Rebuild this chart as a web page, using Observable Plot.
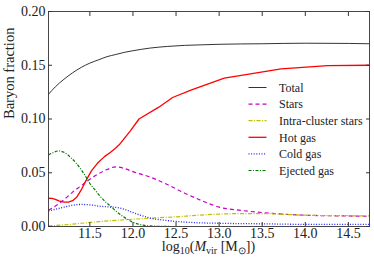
<!DOCTYPE html>
<html><head><meta charset="utf-8">
<script src="https://cdn.jsdelivr.net/npm/d3@7"></script>
<script src="https://cdn.jsdelivr.net/npm/@observablehq/plot@0.6"></script>
<style>body{margin:0;background:#fff} svg{display:block}</style>
</head><body><div id="chart"></div>
<script>
const xTicks = [11.5, 12.0, 12.5, 13.0, 13.5, 14.0, 14.5];
const yTicks = [0.00, 0.05, 0.10, 0.15, 0.20];
const seriesNames = ["Total", "Stars", "Intra-cluster stars", "Hot gas", "Cold gas", "Ejected gas"];

const total = [[11.02,0.123],[11.1,0.130],[11.2,0.137],[11.3,0.143],[11.4,0.148],[11.5,0.152],[11.6,0.155],[11.7,0.158],[11.8,0.160],[11.9,0.162],[12.0,0.1635],[12.2,0.166],[12.4,0.1675],[12.6,0.1685],[12.8,0.169],[13.0,0.1695],[13.5,0.170],[14.0,0.1705],[14.5,0.1703],[14.745,0.170]];
const stars = [[11.02,0.015],[11.1,0.019],[11.2,0.025],[11.3,0.032],[11.4,0.038],[11.5,0.044],[11.6,0.049],[11.7,0.053],[11.8,0.0555],[11.9,0.054],[12.0,0.051],[12.2,0.046],[12.4,0.039],[12.6,0.031],[12.8,0.024],[13.0,0.018],[13.25,0.015],[13.5,0.013],[13.75,0.0115],[14.0,0.0105],[14.5,0.0098],[14.745,0.0095]];
const ics = [[11.02,0.0005],[11.2,0.0015],[11.4,0.003],[11.6,0.0045],[11.8,0.0057],[12.0,0.0068],[12.25,0.008],[12.5,0.009],[12.75,0.0105],[13.0,0.0115],[13.25,0.012],[13.5,0.012],[13.75,0.0113],[14.0,0.0105],[14.5,0.010],[14.745,0.0098]];
const hot = [[11.02,0.0263],[11.06,0.0262],[11.1,0.0252],[11.14,0.0238],[11.2,0.0226],[11.25,0.0227],[11.3,0.0240],[11.35,0.0275],[11.4,0.034],[11.45,0.042],[11.52,0.052],[11.59,0.059],[11.67,0.065],[11.74,0.069],[11.8,0.073],[11.84,0.076],[11.9,0.082],[11.97,0.089],[12.07,0.100],[12.3,0.111],[12.46,0.120],[12.68,0.127],[13.06,0.138],[13.72,0.1466],[14.26,0.1497],[14.745,0.150]];
const cold = [[11.02,0.0145],[11.1,0.016],[11.2,0.018],[11.3,0.0198],[11.4,0.0205],[11.5,0.0202],[11.6,0.019],[11.7,0.0183],[11.8,0.0178],[11.9,0.016],[12.0,0.013],[12.1,0.0102],[12.2,0.0078],[12.35,0.006],[12.5,0.0047],[12.75,0.0035],[13.0,0.003],[13.5,0.0025],[14.0,0.002],[14.745,0.002]];
const ejected = [[11.02,0.0665],[11.08,0.069],[11.14,0.0703],[11.2,0.069],[11.28,0.064],[11.34,0.059],[11.39,0.054],[11.44,0.048],[11.5,0.040],[11.56,0.034],[11.62,0.028],[11.68,0.023],[11.74,0.019],[11.8,0.0145],[11.89,0.009],[12.0,0.004],[12.12,0.0012],[12.25,0.0003],[12.5,0],[14.745,0]];

const styles = [
  {data: total, stroke: "#000000", w: 0.8, dash: "none", curve: "monotone-x"},
  {data: stars, stroke: "#c400c4", w: 1.2, dash: "4,3", curve: "monotone-x"},
  {data: ics, stroke: "#bfbf00", w: 1.2, dash: "4,1.5,1,1.5", curve: "monotone-x"},
  {data: hot, stroke: "#ff0000", w: 1.3, dash: "none", curve: "linear"},
  {data: cold, stroke: "#2020ff", w: 1.3, dash: "1,1.6", curve: "monotone-x"},
  {data: ejected, stroke: "#007a00", w: 1.2, dash: "3,1.5,1,1.5", curve: "monotone-x"}
];

const font = "Liberation Serif";
const plot = Plot.plot({
  width: 374, height: 265,
  marginTop: 11, marginBottom: 39, marginLeft: 48, marginRight: 5,
  style: {fontFamily: font, fontSize: "14px", background: "white", color: "#222"},
  x: {domain: [11.02, 14.745]},
  y: {domain: [0, 0.2]},
  marks: [
    ...styles.map(s => Plot.line(s.data, {x: d => d[0], y: d => d[1], stroke: s.stroke, strokeWidth: s.w, strokeDasharray: s.dash, strokeLinecap: "butt", curve: s.curve, clip: true})),
    Plot.frame({stroke: "#333", strokeWidth: 0.9}),
    Plot.axisX({ticks: xTicks, anchor: "bottom", tickSize: -4, tickPadding: 6, tickFormat: d => d.toFixed(1), label: null, stroke: "#333"}),
    Plot.axisX({ticks: xTicks, anchor: "top", tickSize: -4, tickFormat: () => "", label: null, stroke: "#333"}),
    Plot.axisY({ticks: yTicks, anchor: "left", tickSize: -4, tickPadding: 7, tickFormat: d => d.toFixed(2), label: null, stroke: "#333"}),
    Plot.axisY({ticks: yTicks, anchor: "right", tickSize: -4, tickFormat: () => "", label: null, stroke: "#333"}),
    Plot.text(["Baryon fraction"], {frameAnchor: "left", rotate: -90, dx: -39, fontSize: 14.5, fill: "#222"})
  ]
});
document.getElementById("chart").appendChild(plot);

const svg = d3.select(plot);
// x-axis label with subscripts
const xs = plot.scale("x");
const cx = (xs.range[0] + xs.range[1]) / 2;
const t = svg.append("text").attr("x", cx).attr("y", 251).attr("text-anchor", "middle")
  .attr("font-family", font).attr("font-size", 14).attr("fill", "#222");
t.append("tspan").text("log");
t.append("tspan").attr("font-size", 10).attr("dy", 3).text("10");
t.append("tspan").attr("dy", -3).text("(");
t.append("tspan").attr("font-style", "italic").text("M");
t.append("tspan").attr("font-size", 10).attr("dy", 3).text("vir");
t.append("tspan").attr("dy", -3).text(" [M");
t.append("tspan").attr("font-size", 10).attr("dy", 3).text("⊙");
t.append("tspan").attr("dy", -3).text("])");

// legend
const lg = svg.append("g").attr("font-family", font).attr("font-size", 12).attr("fill", "#222").attr("text-anchor", "start");
styles.forEach((s, i) => {
  const y = 87.5 + i * 16.6;
  lg.append("line").attr("x1", 248.5).attr("x2", 266.5).attr("y1", y).attr("y2", y)
    .attr("stroke", s.stroke).attr("stroke-width", s.w).attr("stroke-dasharray", s.dash);
  lg.append("text").attr("x", 279).attr("y", y).attr("dy", "0.35em").attr("text-anchor", "start").text(seriesNames[i]);
});
</script>
</body></html>
